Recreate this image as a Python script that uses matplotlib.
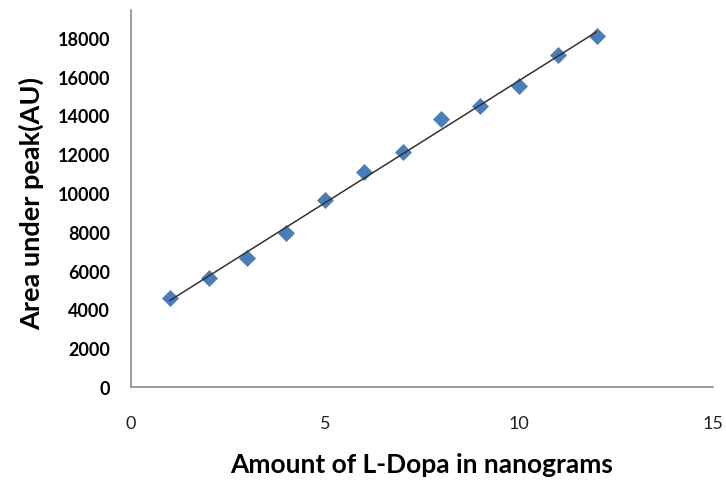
import numpy as np
import matplotlib
matplotlib.use("Agg")
import matplotlib.pyplot as plt

plt.rcParams['font.family'] = ['Lato', 'DejaVu Sans']

amount_ng = [1, 2, 3, 4, 5, 6, 7, 8, 9, 10, 11, 12]
area_au = [4580, 5600, 6650, 7940, 9640, 11100, 12130, 13810, 14470, 15500, 17110, 18080]
x_ticks = [0, 5, 10, 15]
y_ticks = [0, 2000, 4000, 6000, 8000, 10000, 12000, 14000, 16000, 18000]

fig = plt.figure(figsize=(7.26, 4.85), dpi=100)
ax = fig.add_axes([0.1804, 0.2, 0.8016, 0.777])

slope, intercept = np.polyfit(amount_ng, area_au, 1)
xf = np.array([amount_ng[0], amount_ng[-1]])
ax.plot(xf, slope * xf + intercept, color='#333333', lw=1.1, zorder=3)
ax.scatter(amount_ng, area_au, marker='D', s=75, color='#4a7ebb', zorder=2, linewidths=0)

ax.set_xlim(0, 15)
ax.set_ylim(0, 19430)
ax.set_xticks(x_ticks)
ax.set_yticks(y_ticks)
ax.set_xticklabels([str(v) for v in x_ticks], fontsize=13, color='#222222')
ax.set_yticklabels([str(v) for v in y_ticks], fontsize=13, fontweight='bold')
ax.tick_params(axis='both', length=0)
ax.tick_params(axis='y', pad=15)
ax.tick_params(axis='x', pad=20)
for s in ['top', 'right']:
    ax.spines[s].set_visible(False)
for s in ['left', 'bottom']:
    ax.spines[s].set_color('#8c8c8c')
    ax.spines[s].set_linewidth(1.2)

ax.set_xlabel('Amount of L-Dopa in nanograms', fontsize=19, fontweight='bold')
ax.set_ylabel('Area under peak(AU)', fontsize=19.5, fontweight='bold')
ax.xaxis.set_label_coords(0.5, -0.172)
ax.yaxis.set_label_coords(-0.15, 0.49)

fig.savefig('out.png', dpi=100)
